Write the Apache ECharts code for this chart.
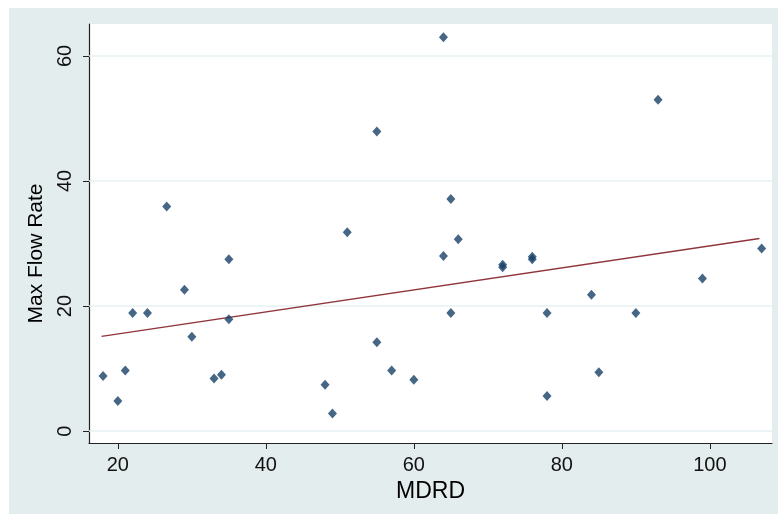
<!DOCTYPE html>
<html>
<head>
<meta charset="utf-8">
<script src="https://cdn.jsdelivr.net/npm/echarts@6/dist/echarts.min.js"></script>
<style>
    html, body { margin: 0; padding: 0; background: #fff; }
    #chart {
        position: absolute;
        left: 9px;
        top: 8px;
        width: 769px;
        height: 506px;
    }
</style>
</head>
<body>
<div id="chart"></div>
<script>
    // MDRD vs max flow rate
    var mdrd = [18, 20, 21, 22, 24, 26.6, 29, 30, 33, 34, 35, 35,
        48, 49, 51, 55, 55, 57, 60, 64, 64, 65, 65, 66,
        72, 72, 76, 76, 78, 78, 84, 85, 90, 93, 99, 107]
    var flowRate = [8.8, 4.8, 9.7, 18.9, 18.9, 35.9, 22.6, 15.1, 8.4, 9.0, 27.5, 17.9,
        7.4, 2.8, 31.8, 47.9, 14.2, 9.7, 8.2, 63.0, 28.0, 37.1, 18.9, 30.7,
        26.2, 26.6, 27.5, 27.9, 18.9, 5.6, 21.8, 9.4, 18.9, 53.0, 24.4, 29.2]
    // fitted line end points
    var fitX = [17.8, 106.7]
    var fitY = [15.15, 30.8]
    var xTicks = [20, 40, 60, 80, 100]
    var yTicks = [0, 20, 40, 60]

    var points = mdrd.map(function (x, i) { return [x, flowRate[i]] })
    var fitLine = fitX.map(function (x, i) { return [x, fitY[i]] })

    var font = 'Liberation Sans, Arial, sans-serif'
    var chart = echarts.init(document.getElementById('chart'))
    var option = {
        backgroundColor: '#e4edee',
        animation: false,
        grid: {
            left: 80,
            top: 16,
            right: 6,
            bottom: 71,
            show: true,
            backgroundColor: '#ffffff',
            borderWidth: 0
        },
        xAxis: {
            type: 'value',
            min: 16.1,
            max: 108.4,
            name: 'MDRD',
            nameLocation: 'middle',
            nameGap: 31,
            nameTextStyle: { fontFamily: font, fontSize: 23, color: '#000' },
            axisLine: { show: true, onZero: false, lineStyle: { color: '#222', width: 1.2 } },
            axisTick: { show: true, length: 6, customValues: xTicks, lineStyle: { color: '#222' } },
            axisLabel: { customValues: xTicks, margin: 12, fontFamily: font, fontSize: 20, color: '#111' },
            splitLine: { show: false }
        },
        yAxis: {
            type: 'value',
            min: -1.9,
            max: 65.1,
            name: 'Max Flow Rate',
            nameLocation: 'middle',
            nameGap: 19,
            nameTextStyle: { fontFamily: font, fontSize: 21, color: '#000', padding: [0, 40, 0, 0] },
            axisLine: { show: true, onZero: false, lineStyle: { color: '#222', width: 1.2 } },
            axisTick: { show: true, length: 6, customValues: yTicks, lineStyle: { color: '#222' } },
            axisLabel: { customValues: yTicks, rotate: 90, margin: 14, fontFamily: font, fontSize: 20, color: '#111' },
            splitLine: { show: false }
        },
        series: [
            {
                type: 'scatter',
                data: points,
                symbol: 'diamond',
                symbolSize: [9, 10],
                itemStyle: { color: '#164166' },
                z: 3,
                markLine: {
                    silent: true,
                    symbol: 'none',
                    label: { show: false },
                    lineStyle: { color: '#e6f0f2', width: 1.5, type: 'solid' },
                    data: yTicks.map(function (v) { return { yAxis: v } }),
                    z: 1
                }
            },
            {
                type: 'line',
                data: fitLine,
                showSymbol: false,
                lineStyle: { color: '#90353b', width: 1.5 },
                z: 2
            }
        ]
    }
    chart.setOption(option)
</script>
</body>
</html>
